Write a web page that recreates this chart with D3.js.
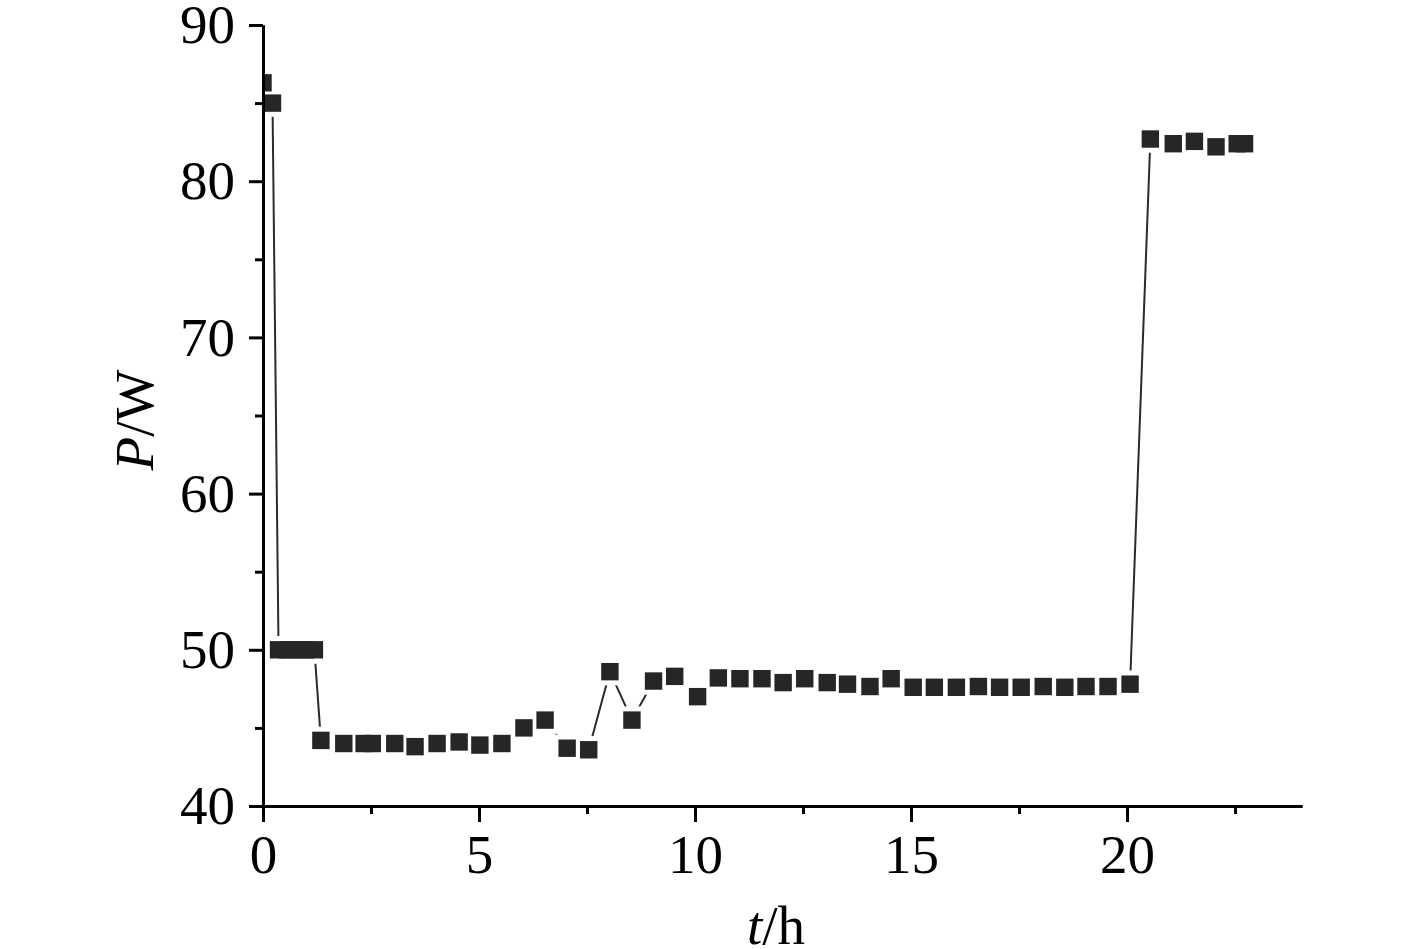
<!DOCTYPE html>
<html>
<head>
<meta charset="utf-8">
<script src="https://cdn.jsdelivr.net/npm/d3@7"></script>
<style>
  html, body { margin: 0; padding: 0; background: #fff; }
  svg { display: block; }
</style>
</head>
<body>
<svg id="chart" width="1417" height="949"></svg>
<script>
// ---- data ----
const timeH = [0, 0.22, 0.36, 0.57, 0.78, 0.98, 1.19, 1.34, 1.87, 2.34, 2.53, 3.05, 3.52, 4.03, 4.54, 5.02,
  5.53, 6.04, 6.53, 7.04, 7.54, 8.03, 8.54, 9.04, 9.53, 10.06, 10.54, 11.04, 11.55, 12.04, 12.54, 13.06,
  13.53, 14.05, 14.54, 15.05, 15.54, 16.05, 16.56, 17.05, 17.55, 18.06, 18.56, 19.05, 19.56, 20.07,
  20.54, 21.07, 21.56, 22.06, 22.55, 22.72];
const powerW = [86.3, 85.0, 50, 50, 50, 50, 50, 44.2, 44.0, 44.0, 44.0, 44.0, 43.8, 44.0, 44.1, 43.9,
  44.0, 45.0, 45.5, 43.7, 43.6, 48.6, 45.5, 48.0, 48.3, 47.0, 48.2, 48.15, 48.15, 47.9, 48.15, 47.9,
  47.8, 47.65, 48.15, 47.6, 47.6, 47.6, 47.65, 47.6, 47.6, 47.65, 47.6, 47.65, 47.65, 47.8,
  82.7, 82.4, 82.55, 82.2, 82.4, 82.4];
const xMajorTicks = [0, 5, 10, 15, 20];
const xMinorTicks = [2.5, 7.5, 12.5, 17.5, 22.5];
const yMajorTicks = [40, 50, 60, 70, 80, 90];
const yMinorTicks = [45, 55, 65, 75, 85];
const xTitle = ["t", "/h"];
const yTitle = ["P", "/W"];

// ---- layout ----
const svg = d3.select("#chart");
const mLeft = 263, mRight = 1302, mTop = 25, mBottom = 806;
const x = d3.scaleLinear().domain([0, 24.05]).range([mLeft, mRight]);
const y = d3.scaleLinear().domain([40, 90]).range([mBottom, mTop]);
const font = "'Liberation Serif', 'Times New Roman', serif";
const data = timeH.map((t, i) => ({ t, p: powerW[i] }));

svg.append("defs").append("clipPath").attr("id", "plotclip")
  .append("rect").attr("x", mLeft).attr("y", mTop - 20).attr("width", mRight - mLeft + 20).attr("height", mBottom - mTop + 20);

const plot = svg.append("g").attr("clip-path", "url(#plotclip)");

// connecting line
plot.append("path")
  .datum(data)
  .attr("fill", "none")
  .attr("stroke", "#2b2b2b")
  .attr("stroke-width", 2)
  .attr("d", d3.line().x(d => x(d.t)).y(d => y(d.p)));

// symbol gaps (white halos) then symbols
const sym = 17.4, gap = 5;
plot.append("g").selectAll("rect").data(data).join("rect")
  .attr("x", d => x(d.t) - sym / 2 - gap)
  .attr("y", d => y(d.p) - sym / 2 - gap)
  .attr("width", sym + 2 * gap).attr("height", sym + 2 * gap)
  .attr("fill", "#fff");
plot.append("g").selectAll("rect").data(data).join("rect")
  .attr("x", d => x(d.t) - sym / 2)
  .attr("y", d => y(d.p) - sym / 2)
  .attr("width", sym).attr("height", sym)
  .attr("fill", "#262626");

// ---- axes ----
function styleAxis(g) {
  g.select(".domain").attr("stroke", "#000").attr("stroke-width", 3);
  g.selectAll(".tick line").attr("stroke", "#000").attr("stroke-width", 3);
  g.selectAll(".tick text").attr("fill", "#000").style("font-family", font).style("font-size", "55px");
}

svg.append("g").attr("transform", `translate(0,${mBottom})`)
  .call(d3.axisBottom(x).tickValues(xMinorTicks).tickSize(8).tickSizeOuter(0).tickFormat(""))
  .call(styleAxis);
svg.append("g").attr("transform", `translate(0,${mBottom})`)
  .call(d3.axisBottom(x).tickValues(xMajorTicks).tickSize(16).tickSizeOuter(0).tickPadding(12).tickFormat(d3.format("d")))
  .call(styleAxis);
svg.append("g").attr("transform", `translate(${mLeft},0)`)
  .call(d3.axisLeft(y).tickValues(yMinorTicks).tickSize(8).tickSizeOuter(0).tickFormat(""))
  .call(styleAxis);
svg.append("g").attr("transform", `translate(${mLeft},0)`)
  .call(d3.axisLeft(y).tickValues(yMajorTicks).tickSize(14).tickSizeOuter(0).tickPadding(14).tickFormat(d3.format("d")))
  .call(styleAxis);

// ---- axis titles ----
const xt = svg.append("text")
  .attr("x", 776).attr("y", 944)
  .attr("text-anchor", "middle")
  .style("font-family", font).style("font-size", "55px").attr("fill", "#000");
xt.append("tspan").style("font-style", "italic").text(xTitle[0]);
xt.append("tspan").text(xTitle[1]);

const yt = svg.append("text")
  .attr("transform", "translate(153,420) rotate(-90)")
  .attr("text-anchor", "middle")
  .style("font-family", font).style("font-size", "55px").attr("fill", "#000");
yt.append("tspan").style("font-style", "italic").text(yTitle[0]);
yt.append("tspan").text(yTitle[1]);
</script>
</body>
</html>
